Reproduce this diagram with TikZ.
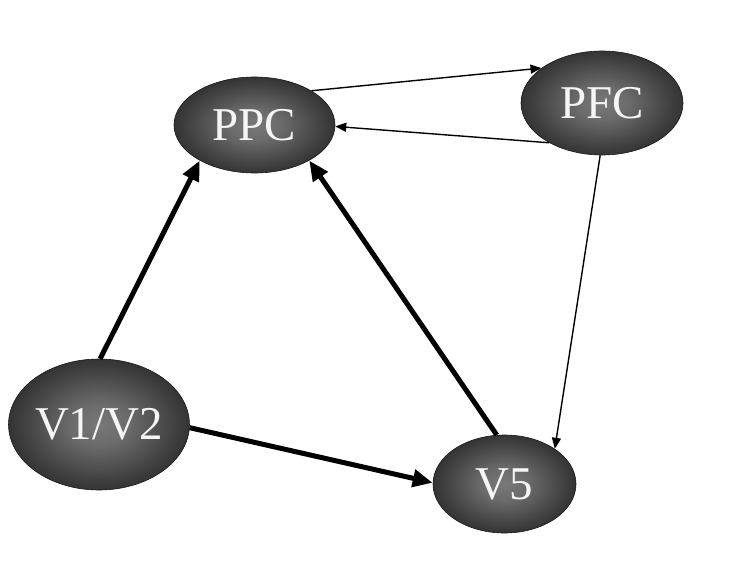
\documentclass[tikz,border=0pt]{standalone}
\usepackage{fontspec}
\setmainfont{Liberation Serif}
\usetikzlibrary{arrows.meta,shapes.geometric}
\definecolor{ballout}{RGB}{24,24,24}
\definecolor{txt}{RGB}{245,245,245}
\pgfdeclareradialshading{ballshade}{\pgfpoint{0bp}{0bp}}{%
  rgb(0bp)=(0.47,0.47,0.47);
  rgb(8bp)=(0.42,0.42,0.42);
  rgb(22bp)=(0.24,0.24,0.24);
  rgb(34bp)=(0.10,0.10,0.10);
  rgb(50bp)=(0.09,0.09,0.09)}
\tikzset{
  area/.style={ellipse, inner sep=0pt, shading=ballshade,
    draw=ballout, line width=0.6pt, text=txt, font=\fontsize{47}{47}\selectfont},
  strong/.style={line width=5pt, -{Triangle[length=20pt,width=17pt]}},
  weak/.style={line width=1.4pt, -{Triangle[length=11pt,width=9pt]}}
}
\begin{document}
\begin{tikzpicture}[x=1pt,y=-1pt]
\useasboundingbox[fill=white] (0,0) rectangle (735,567);
\node[area, minimum width=161pt, minimum height=96pt] (ppc) at (254.5,125) {PPC};
\node[area, minimum width=162pt, minimum height=104pt] (pfc) at (602,103) {PFC};
\node[area, minimum width=180pt, minimum height=131pt] (v12) at (99,424.5) {V1/V2};
\node[area, minimum width=143pt, minimum height=98pt] (v5) at (504.5,484) {V5};
\draw[strong] (v12.89) -- (ppc.213);
\draw[strong] (v5.99) -- (ppc.327);
\draw[strong] (v12.358) -- (v5.179);
\draw[weak] (ppc.31) -- (pfc.150);
\draw[weak] (pfc.217) -- (ppc.359);
\draw[weak] (pfc.268) -- (v5.35);
\end{tikzpicture}
\end{document}
